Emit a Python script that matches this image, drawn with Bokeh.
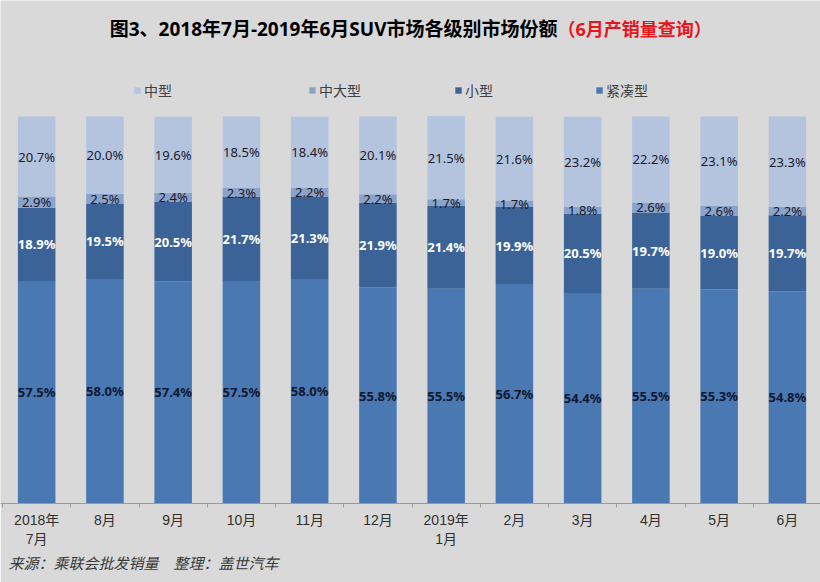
from bokeh.plotting import figure
from bokeh.models import (Range1d, FixedTicker, LinearAxis, Legend, LegendItem,
                          Label, ColumnDataSource, LabelSet, Title)
from bokeh.core.properties import value
from bokeh.embed import file_html
from bokeh.resources import INLINE

months = ["2018年\n7月", "8月", "9月", "10月", "11月", "12月",
          "2019年\n1月", "2月", "3月", "4月", "5月", "6月"]
compact = [57.5, 58.0, 57.4, 57.5, 58.0, 55.8, 55.5, 56.7, 54.4, 55.5, 55.3, 54.8]
small = [18.9, 19.5, 20.5, 21.7, 21.3, 21.9, 21.4, 19.9, 20.5, 19.7, 19.0, 19.7]
midlarge = [2.9, 2.5, 2.4, 2.3, 2.2, 2.2, 1.7, 1.7, 1.8, 2.6, 2.6, 2.2]
mid = [20.7, 20.0, 19.6, 18.5, 18.4, 20.1, 21.5, 21.6, 23.2, 22.2, 23.1, 23.3]
series_names = ["紧凑型", "小型", "中大型", "中型"]
legend_order = ["中型", "中大型", "小型", "紧凑型"]

colors = {"紧凑型": "#4a78b3", "小型": "#3c6397", "中大型": "#8aa3ca", "中型": "#b5c4de"}
BG = "#d9d9d9"
CJK = "Noto Sans CJK SC"
TITLE_FONT = "Open Sans, Noto Sans CJK SC"

xs = [i + 0.5 for i in range(len(months))]
data = {"x": xs, "紧凑型": compact, "小型": small, "中大型": midlarge, "中型": mid}
src = ColumnDataSource(data)

# frame spans the top of the canvas down to the axis line; 100% sits below the title/legend band
p = figure(width=820, height=582, x_range=Range1d(-0.03, 11.985), y_range=Range1d(0, 129.97),
           output_backend="svg", toolbar_location=None, x_axis_type=None, y_axis_type=None,
           min_border_left=0, min_border_right=0, min_border_top=0, min_border_bottom=79)
p.background_fill_color = BG
p.border_fill_color = BG
p.outline_line_color = None
p.xgrid.visible = False
p.ygrid.visible = False

renderers = p.vbar_stack(series_names, x="x", width=0.55, source=src,
                         color=[colors[n] for n in series_names], line_color=None)
rmap = dict(zip(series_names, renderers))

# x axis
ax = LinearAxis(ticker=FixedTicker(ticks=xs, minor_ticks=list(range(13))))
ax.major_label_overrides = {x: m for x, m in zip(xs, months)}
ax.major_tick_line_color = None
ax.major_tick_out = 0
ax.major_tick_in = 0
ax.minor_tick_out = 4
ax.minor_tick_in = 0
ax.minor_tick_line_color = "#9a9a9a"
ax.axis_line_color = "#9a9a9a"
ax.major_label_standoff = 4
ax.major_label_text_font = "Liberation Sans, Noto Sans CJK SC"
ax.major_label_text_font_size = "14px"
ax.major_label_text_color = "#303030"
p.add_layout(ax, "below")

# source note
p.add_layout(Title(text="来源：乘联会批发销量\u3000整理：盖世汽车", align="left", offset=8,
                   standoff=0, text_font=CJK, text_font_size="15px",
                   text_font_style="italic", text_color="#3a3a3a"), "below")

# data labels
bottoms = [0.0] * len(months)
label_styles = {
    "紧凑型": ("#101830", "bold", "13px"),
    "小型": ("#ffffff", "bold", "13px"),
    "中大型": ("#1a1a2a", "normal", "13px"),
    "中型": ("#1a1a2a", "normal", "13px"),
}
for name in series_names:
    vals = data[name]
    centers = [b + v / 2 for b, v in zip(bottoms, vals)]
    bottoms = [b + v for b, v in zip(bottoms, vals)]
    ls = ColumnDataSource({"x": xs, "y": centers, "t": ["%.1f%%" % v for v in vals]})
    col, weight, size = label_styles[name]
    p.add_layout(LabelSet(x="x", y="y", text="t", source=ls, text_align="center",
                          text_baseline="middle", text_color=col, text_font_style=weight,
                          text_font_size=size, text_font=value("Noto Sans")))

# legends
leg_x = [133, 308, 454, 595]
for name, lx in zip(legend_order, leg_x):
    leg = Legend(items=[LegendItem(label=name, renderers=[rmap[name]])],
                 location=(lx, 403), orientation="horizontal",
                 background_fill_alpha=0, border_line_color=None, padding=0, margin=0,
                 glyph_width=8, glyph_height=8, label_standoff=3, label_height=16,
                 label_text_font_size="14px", label_text_font=CJK, label_text_color="#404040")
    p.add_layout(leg)

# title
p.add_layout(Label(x=557, y=475, x_units="screen", y_units="screen",
                   text="图3、2018年7月-2019年6月SUV市场各级别市场份额",
                   text_align="right", text_baseline="middle", text_font=TITLE_FONT,
                   text_font_size="19px", text_font_style="bold", text_color="#000000"))
p.add_layout(Label(x=557, y=475, x_units="screen", y_units="screen",
                   text="（6月产销量查询）",
                   text_align="left", text_baseline="middle", text_font=TITLE_FONT,
                   text_font_size="18px", text_font_style="bold", text_color="#e8141b"))

open("out.html", "w").write(file_html(p, INLINE))
